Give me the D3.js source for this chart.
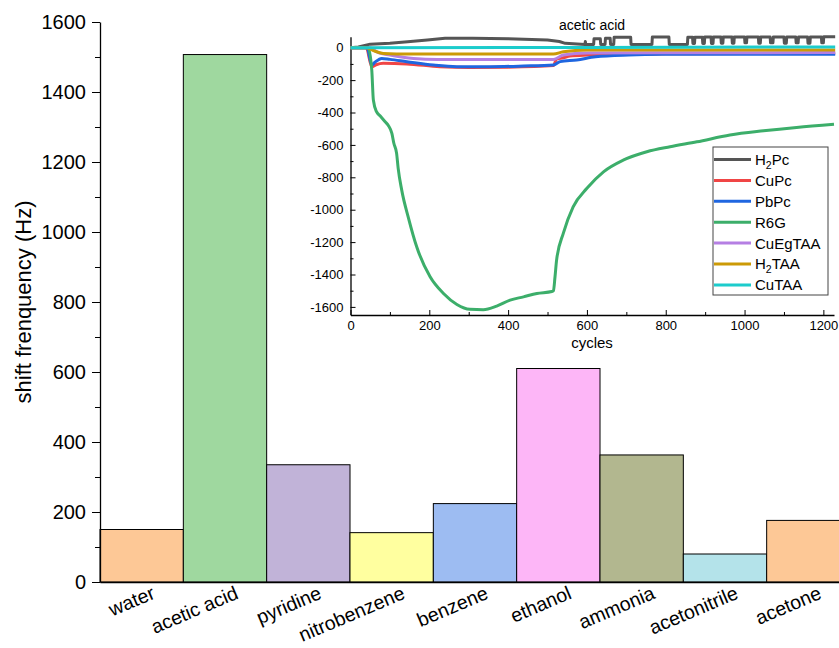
<!DOCTYPE html>
<html>
<head>
<meta charset="utf-8">
<script src="https://cdn.jsdelivr.net/npm/d3@7"></script>
<style>
  html, body { margin: 0; padding: 0; background: #fff; }
  svg { display: block; font-family: Arial, "Liberation Sans", sans-serif; }
</style>
</head>
<body>
<div id="chart"></div>
<script>
// main bar chart
const solvents = ['water', 'acetic acid', 'pyridine', 'nitrobenzene', 'benzene',
  'ethanol', 'ammonia', 'acetonitrile', 'acetone'];
const shifts = [150, 1507, 335, 141, 224, 610, 363, 80, 176];
const barColors = ['#fdc896', '#9fd89f', '#c1b3d8', '#ffff9f', '#9dbcf2',
  '#fdb6f7', '#b2b78f', '#b4e3ea', '#fdc896'];
const yTicks = [0, 200, 400, 600, 800, 1000, 1200, 1400, 1600];

// inset: acetic acid response vs cycles
const insetXTicks = [0, 200, 400, 600, 800, 1000, 1200];
const insetYTicks = [0, -200, -400, -600, -800, -1000, -1200, -1400, -1600];

const h2pc = [[0, 0], [20, 5], [50, 22], [100, 27], [145, 37], [195, 48], [240, 58], [310, 58],
  [400, 55], [500, 48], [530, 38], [545, 27], [595, 20], [596, 38], [597, 20], [617, 20], [618, 55],
  [634, 55], [635, 20], [646, 20], [647, 58], [659, 58], [660, 20], [668, 20], [669, 64], [711, 64],
  [712, 20], [765, 20], [766, 66], [808, 66], [809, 20], [855, 20], [856, 64], [868, 64], [869, 26],
  [873, 26], [874, 64], [893, 64], [894, 26], [898, 26], [899, 66], [915, 66], [916, 26], [920, 26],
  [921, 66], [940, 66], [941, 28], [945, 28], [946, 66], [968, 66], [969, 28], [973, 28], [974, 66],
  [1000, 66], [1001, 30], [1005, 30], [1006, 66], [1035, 66], [1036, 28], [1040, 28], [1041, 66],
  [1065, 66], [1066, 30], [1072, 30], [1073, 66], [1100, 66], [1101, 28], [1106, 28], [1107, 66],
  [1130, 66], [1131, 30], [1136, 30], [1137, 66], [1160, 66], [1161, 28], [1166, 28], [1167, 66],
  [1195, 66], [1196, 30], [1200, 30], [1201, 68], [1230, 68]];
const cupc = [[0, 0], [40, 0], [54, -117], [65, -105], [83, -96], [143, -100], [227, -117],
  [300, -122], [400, -120], [515, -110], [523, -70], [540, -62], [557, -51], [600, -45],
  [700, -40], [800, -38], [1000, -36], [1230, -35]];
const pbpc = [[0, 0], [42, 0], [54, -107], [62, -90], [79, -66], [100, -72], [143, -86],
  [210, -107], [270, -117], [354, -117], [439, -113], [515, -107], [532, -86], [574, -76],
  [622, -56], [706, -45], [790, -41], [1000, -40], [1230, -40]];
const r6g = [[0, 0], [45, 0], [54, -138], [58, -323], [66, -395], [75, -420], [88, -457],
  [96, -480], [105, -529], [110, -590], [117, -652], [121, -745], [130, -879], [147, -1050],
  [168, -1229], [202, -1414], [236, -1517], [270, -1585], [303, -1615], [337, -1617],
  [371, -1595], [405, -1558], [439, -1538], [473, -1517], [511, -1505], [515, -1500],
  [519, -1414], [523, -1311], [540, -1146], [565, -982], [600, -868], [642, -766], [692, -694],
  [752, -642], [811, -611], [879, -581], [963, -539], [1048, -513], [1132, -492], [1227, -473]];
const cuegtaa = [[0, 0], [49, 0], [70, -30], [100, -45], [160, -66], [220, -72], [515, -72],
  [540, -45], [600, -33], [800, -31], [1230, -30]];
const h2taa = [[0, 0], [41, 0], [60, -20], [83, -35], [150, -39], [515, -39], [540, -25],
  [600, -14], [1230, -14]];
const cutaa = [[0, 0], [600, 2], [1230, 5]];

const series = [
  { name: ['H', '2', 'Pc'], data: h2pc, color: '#555555', curve: d3.curveLinear },
  { name: ['CuPc'], data: cupc, color: '#f04545', curve: d3.curveMonotoneX },
  { name: ['PbPc'], data: pbpc, color: '#1f66e0', curve: d3.curveMonotoneX },
  { name: ['R6G'], data: r6g, color: '#3cae6a', curve: d3.curveMonotoneX },
  { name: ['CuEgTAA'], data: cuegtaa, color: '#b57fe3', curve: d3.curveMonotoneX },
  { name: ['H', '2', 'TAA'], data: h2taa, color: '#cc9a06', curve: d3.curveMonotoneX },
  { name: ['CuTAA'], data: cutaa, color: '#1ccccc', curve: d3.curveMonotoneX },
];

const W = 839, H = 648;
const fmt = (d) => String(d);
const svg = d3.select('#chart').append('svg').attr('width', W).attr('height', H);

// ---- main chart ----
const x = d3.scaleBand().domain(solvents).range([100, 850]).padding(0);
const y = d3.scaleLinear().domain([0, 1600]).range([582, 22]);

svg.append('g')
  .selectAll('rect')
  .data(solvents)
  .join('rect')
  .attr('x', (d) => x(d))
  .attr('y', (d, i) => y(shifts[i]))
  .attr('width', x.bandwidth())
  .attr('height', (d, i) => y(0) - y(shifts[i]))
  .attr('fill', (d, i) => barColors[i])
  .attr('stroke', '#000')
  .attr('stroke-width', 1);

// minor ticks
svg.append('g')
  .attr('transform', 'translate(100,0)')
  .call(d3.axisLeft(y).tickValues(d3.range(100, 1600, 200)).tickSize(5).tickFormat(''))
  .call((g) => g.select('.domain').remove());

svg.append('g')
  .attr('transform', 'translate(100,0)')
  .call(d3.axisLeft(y).tickValues(yTicks).tickFormat(fmt).tickSize(8).tickSizeOuter(0).tickPadding(6))
  .call((g) => g.selectAll('text').attr('font-size', 20).attr('fill', '#000'))
  .call((g) => g.select('.domain').attr('stroke-width', 1.3));

svg.append('g')
  .attr('transform', `translate(0,${y(0)})`)
  .call(d3.axisBottom(x).tickSize(0).tickSizeOuter(0).tickFormat(''))
  .call((g) => g.select('.domain').attr('stroke-width', 1.3));

svg.append('g')
  .selectAll('text')
  .data(solvents)
  .join('text')
  .attr('transform', (d) => `translate(${x(d) + x.bandwidth() / 2 + 9},${y(0) + 3}) rotate(-23)`)
  .attr('text-anchor', 'end')
  .attr('dy', '0.72em')
  .attr('font-size', 19.5)
  .text((d) => d);

svg.append('text')
  .attr('transform', `translate(31,${(y(0) + y(1600)) / 2}) rotate(-90)`)
  .attr('text-anchor', 'middle')
  .attr('font-size', 22)
  .text('shift frenquency (Hz)');

// ---- inset ----
const ix = d3.scaleLinear().domain([0, 1227]).range([350.5, 834]);
const iy = d3.scaleLinear().domain([-1650, 68]).range([315, 36.7]);

const inset = svg.append('g');

inset.append('g')
  .attr('transform', `translate(0,${iy(-1650)})`)
  .call(d3.axisBottom(ix).tickValues(d3.range(100, 1227, 200)).tickSize(-3).tickFormat(''))
  .call((g) => g.select('.domain').remove());
inset.append('g')
  .attr('transform', `translate(0,${iy(-1650)})`)
  .call(d3.axisBottom(ix).tickValues(insetXTicks).tickFormat(fmt).tickSize(-5).tickSizeOuter(0).tickPadding(6))
  .call((g) => g.selectAll('text').attr('font-size', 13).attr('fill', '#000'))
  .call((g) => g.select('.domain').attr('stroke-width', 1.3));

inset.append('g')
  .attr('transform', `translate(${ix(0)},0)`)
  .call(d3.axisLeft(iy).tickValues(d3.range(-1500, 68, 200)).tickSize(-3).tickFormat(''))
  .call((g) => g.select('.domain').remove());
inset.append('g')
  .attr('transform', `translate(${ix(0)},0)`)
  .call(d3.axisLeft(iy).tickValues(insetYTicks).tickFormat(fmt).tickSize(-5).tickSizeOuter(0).tickPadding(7))
  .call((g) => g.selectAll('text').attr('font-size', 13).attr('fill', '#000'))
  .call((g) => g.select('.domain').attr('stroke-width', 1.3));

inset.append('text')
  .attr('x', 592).attr('y', 30)
  .attr('text-anchor', 'middle')
  .attr('font-size', 14)
  .text('acetic acid');

inset.append('text')
  .attr('x', 592).attr('y', 348)
  .attr('text-anchor', 'middle')
  .attr('font-size', 15)
  .text('cycles');

const line = d3.line().x((d) => ix(d[0])).y((d) => iy(d[1]));

inset.append('g')
  .selectAll('path')
  .data(series)
  .join('path')
  .attr('fill', 'none')
  .attr('stroke', (d) => d.color)
  .attr('stroke-width', 3)
  .attr('stroke-linejoin', 'round')
  .attr('d', (d) => line.curve(d.curve)(d.data));

// legend
const legend = inset.append('g');
legend.append('rect')
  .attr('x', 713).attr('y', 147).attr('width', 115).attr('height', 148)
  .attr('fill', '#fff').attr('stroke', '#444').attr('stroke-width', 1);

const rows = legend.selectAll('g')
  .data(series)
  .join('g')
  .attr('transform', (d, i) => `translate(0,${159.5 + i * 20.9})`);

rows.append('line')
  .attr('x1', 714).attr('x2', 751)
  .attr('stroke', (d) => d.color)
  .attr('stroke-width', 3);

rows.append('text')
  .attr('x', 755)
  .attr('dy', '0.36em')
  .attr('font-size', 15)
  .each(function (d) {
    const t = d3.select(this);
    d.name.forEach((part, k) => {
      const sub = d.name.length === 3 && k === 1;
      t.append('tspan')
        .attr('font-size', sub ? 10.5 : null)
        .attr('dy', sub ? 4 : (k === 2 ? -4 : null))
        .text(part);
    });
  });
</script>
</body>
</html>
